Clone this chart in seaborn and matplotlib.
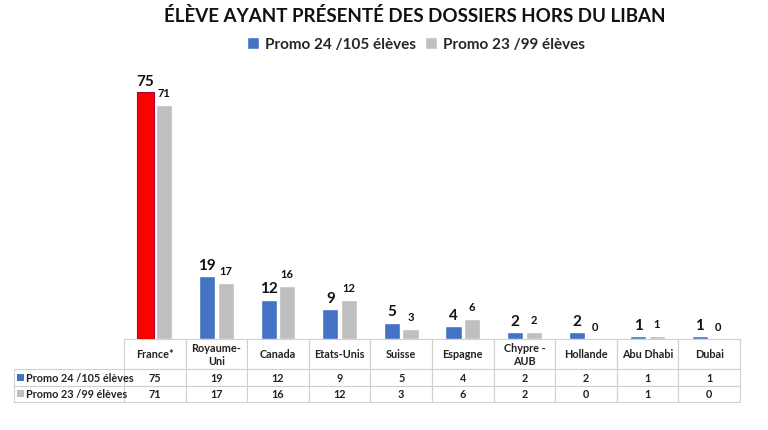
import matplotlib
matplotlib.use("Agg")
import matplotlib.pyplot as plt
import seaborn as sns
import pandas as pd
from matplotlib.patches import Patch, Rectangle

categories = ["France*", "Royaume-\nUni", "Canada", "Etats-Unis", "Suisse", "Espagne",
              "Chypre -\nAUB", "Hollande", "Abu Dhabi", "Dubai"]
series_names = ["Promo 24 /105 élèves", "Promo 23 /99 élèves"]
promo24 = [75, 19, 12, 9, 5, 4, 2, 2, 1, 1]
promo23 = [71, 17, 16, 12, 3, 6, 2, 0, 1, 0]
title = "ÉLÈVE AYANT PRÉSENTÉ DES DOSSIERS HORS DU LIBAN"

BLUE = "#4472C4"
GRAY = "#BFBFBF"
RED = "#FF0000"

sns.set_theme(style="white")
plt.rcParams['font.family'] = ['Lato', 'DejaVu Sans']

df = pd.DataFrame({
    "pays": categories * 2,
    "serie": [series_names[0]] * len(categories) + [series_names[1]] * len(categories),
    "valeur": promo24 + promo23,
})

W, H = 768, 431
fig = plt.figure(figsize=(W / 100, H / 100), dpi=100)
left, right = 124, 740
base, top = 340, 340 - 80 * 3.29
ax = fig.add_axes([left / W, 1 - base / H, (right - left) / W, (base - top) / H])

sns.barplot(data=df, x="pays", y="valeur", hue="serie", order=categories,
            hue_order=series_names, palette=[BLUE, GRAY], width=0.6, gap=0.12,
            saturation=1, legend=False, ax=ax)
ax.set_ylim(0, 80)
ax.set_xlim(-0.5, len(categories) - 0.5)
for s in ax.spines.values():
    s.set_visible(False)
ax.set_xticks([])
ax.set_yticks([])
ax.set_xlabel("")
ax.set_ylabel("")

# France highlighted in red
ax.containers[0][0].set_facecolor(RED)
ax.containers[0][0].set_edgecolor("#B0003A")
ax.containers[0][0].set_linewidth(0.8)

ax.bar_label(ax.containers[0], fontsize=11, fontweight="bold", padding=3, color="#111111")
ax.bar_label(ax.containers[1], fontsize=8, fontweight="bold", padding=5, color="#111111")

# Title and legend
fig.text(415 / W, 1 - 16 / H, title, ha="center", va="center", fontsize=13.5,
         fontweight="bold", color="#111111")
handles = [Patch(facecolor=BLUE, label=series_names[0]),
           Patch(facecolor=GRAY, label=series_names[1])]
fig.legend(handles=handles, loc="center", bbox_to_anchor=(416 / W, 1 - 45 / H), ncol=2,
           frameon=False, handlelength=0.8, handleheight=0.8, handletextpad=0.4,
           columnspacing=0.6, prop={"size": 11, "weight": "bold"})

# Data table below the bars
ax_h = base - top
ax_w = right - left
tbl_left, tbl_right = 14, 740
tbl_top, tbl_bot = 340, 403
lab_w, col_w = 110, 61.6
cell_text = [[""] + [str(v) for v in promo24],
             [""] + [str(v) for v in promo23]]
tbl = ax.table(cellText=cell_text, colLabels=[""] + categories, cellLoc="center",
               colWidths=[lab_w] + [col_w] * len(categories),
               bbox=[(tbl_left - left) / ax_w, -(tbl_bot - base) / ax_h,
                     (tbl_right - tbl_left) / ax_w, (tbl_bot - tbl_top) / ax_h])
tbl.auto_set_font_size(False)
tbl.set_fontsize(7.8)
hdr_h, row_h = 30, 16.5
edge = "#D0D0D0"
for (r, c), cell in tbl.get_celld().items():
    cell.set_edgecolor(edge)
    cell.set_linewidth(0.8)
    cell.set_height(hdr_h if r == 0 else row_h)
    t = cell.get_text()
    t.set_fontweight("bold")
    t.set_color("#222222")
    if r == 0 and c == 0:
        cell.visible_edges = ""
tbl.set_clip_on(False)

# row labels with legend keys
for i, col in enumerate([BLUE, GRAY]):
    yc = tbl_top + hdr_h + row_h * i + row_h / 2
    fig.patches.append(Rectangle((17 / W, 1 - (yc + 3.5) / H), 7 / W, 7 / H,
                                 transform=fig.transFigure, facecolor=col, edgecolor="none",
                                 zorder=10))
    fig.text(26 / W, 1 - yc / H, series_names[i], ha="left", va="center", fontsize=7.8,
             fontweight="bold", color="#222222")

fig.savefig("out.png", dpi=100)
